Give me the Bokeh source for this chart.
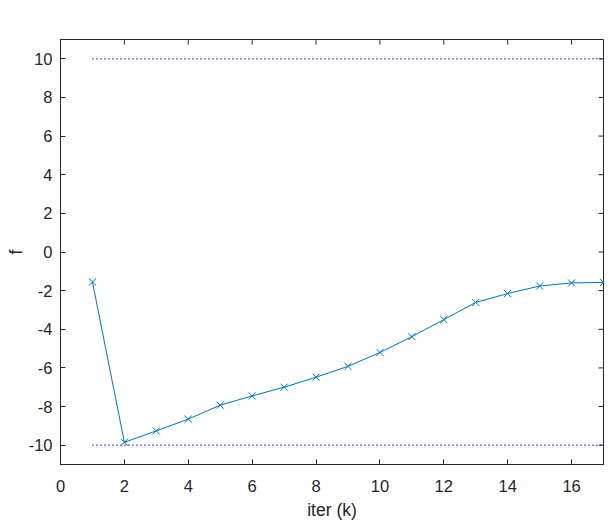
import math
from bokeh.plotting import figure
from bokeh.models import Range1d, FixedTicker
from bokeh.embed import file_html
from bokeh.resources import INLINE

iters = [1, 2, 3, 4, 5, 6, 7, 8, 9, 10, 11, 12, 13, 14, 15, 16, 17]
f_vals = [-1.55, -9.85, -9.26, -8.65, -7.93, -7.45, -7.00, -6.48, -5.92,
          -5.20, -4.38, -3.50, -2.61, -2.15, -1.76, -1.60, -1.57]
upper_x = [1, 17]
upper_y = [10, 10]
lower_x = [1, 17]
lower_y = [-10, -10]
x_ticks = [0, 2, 4, 6, 8, 10, 12, 14, 16]
y_ticks = [-10, -8, -6, -4, -2, 0, 2, 4, 6, 8, 10]
x_min, x_max = 0, 17
y_min, y_max = -11, 11

FONT = "Liberation Sans"
TXT = "#262626"

p = figure(width=614, height=522, output_backend="svg", toolbar_location=None,
           x_range=Range1d(x_min, x_max), y_range=Range1d(y_min, y_max),
           min_border_left=60, min_border_right=11, min_border_top=39, min_border_bottom=57)
p.xgrid.visible = False
p.ygrid.visible = False
p.outline_line_color = TXT
p.outline_line_width = 1

for ax, ticks in ((p.xaxis[0], x_ticks), (p.yaxis[0], y_ticks)):
    ax.ticker = FixedTicker(ticks=ticks)
    ax.minor_tick_line_color = None
    ax.major_tick_in = 5
    ax.major_tick_out = 0
    ax.axis_line_color = TXT
    ax.major_tick_line_color = TXT
    ax.major_label_text_font = FONT
    ax.major_label_text_font_size = "16.5px"
    ax.major_label_text_color = TXT
    ax.axis_label_text_font = FONT
    ax.axis_label_text_font_size = "17.5px"
    ax.axis_label_text_font_style = "normal"
    ax.axis_label_text_color = TXT

p.yaxis.major_label_overrides = {t: str(t) for t in y_ticks}
p.xaxis.axis_label = "iter (k)"
p.yaxis.axis_label = "f"
p.xaxis.major_label_standoff = 15
p.xaxis.axis_label_standoff = 5
p.yaxis.major_label_standoff = 8
p.yaxis.axis_label_standoff = 0

# inward ticks on the top and right edges of the box
p.ray(x=x_ticks, y=[y_max] * len(x_ticks), length=5, length_units="screen",
      angle=-math.pi / 2, line_color=TXT, line_width=1)
p.ray(x=[x_max] * len(y_ticks), y=y_ticks, length=5, length_units="screen",
      angle=math.pi, line_color=TXT, line_width=1)

p.line(upper_x, upper_y, line_color="#0000FF", line_dash="1 3", line_width=1.4)
p.line(lower_x, lower_y, line_color="#0000FF", line_dash="1 3", line_width=1.4)
p.line(iters, f_vals, line_color="#0072BD", line_width=1)
p.scatter(iters, f_vals, marker="x", size=10, line_color="#0072BD", line_width=1)

open("out.html", "w").write(file_html(p, INLINE))
